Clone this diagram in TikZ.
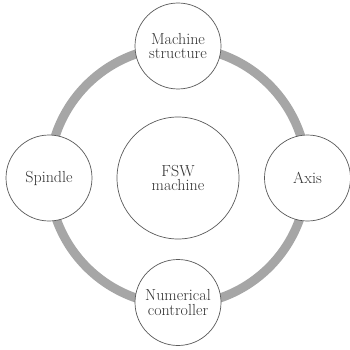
\documentclass[tikz,border=0pt]{standalone}
\usepackage{fontspec}
\usetikzlibrary{calc}
\definecolor{ringgray}{HTML}{A6A6A6}
\definecolor{edgegray}{HTML}{5A5A5A}
\tikzset{
  part/.style={circle, draw=edgegray, line width=0.7pt, fill=white,
    minimum size=86pt, inner sep=0pt, align=center,
    font=\fontsize{16}{14.5}\selectfont, text=black!80},
  core/.style={part, minimum size=122pt},
  ring/.style={draw=ringgray, line width=9pt}
}
\begin{document}
\begin{tikzpicture}[x=1pt,y=-1pt]
  \useasboundingbox (0,0) rectangle (350,350);
  % cycle linking the four subsystems
  \coordinate (hub) at (178,176);
  \draw[ring] (hub) circle[radius=129];
  % central machine
  \node[core] (fsw) at (178,178) {FSW\\machine};
  % subsystems
  \node[part] (struct) at (178,46) {Machine\\structure};
  \node[part] (axis) at (307.5,178) {Axis};
  \node[part] (nc) at (178,302.5) {Numerical\\controller};
  \node[part] (spindle) at (49,178) {Spindle};
\end{tikzpicture}
\end{document}
